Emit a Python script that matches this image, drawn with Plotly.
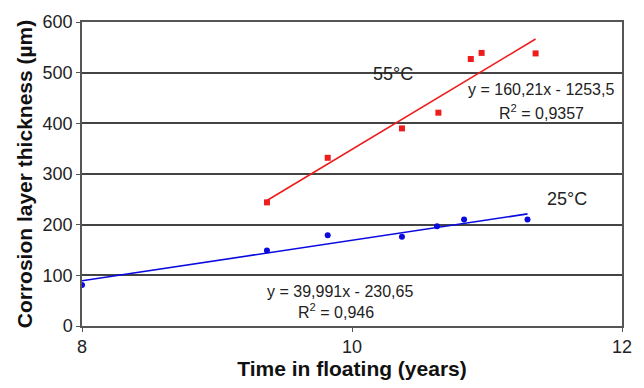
import plotly.graph_objects as go

# Data
x_55 = [9.37, 9.82, 10.37, 10.64, 10.88, 10.96, 11.36]
y_55 = [244, 332, 390, 421, 527, 539, 538]
x_25 = [8.0, 9.37, 9.82, 10.37, 10.63, 10.83, 11.30]
y_25 = [81, 149, 179, 176, 197, 210, 210]
fit_55 = (160.21, -1253.5)
fit_25 = (39.991, -230.65)
x_ticks = [8, 10, 12]
y_ticks = [0, 100, 200, 300, 400, 500, 600]

red = "#ee1c1c"
blue = "#0a0ae0"
font = "Liberation Sans, Arial, sans-serif"

fig = go.Figure()

# Trend lines
for xs, (a, b), col in [(x_55, fit_55, red), (x_25, fit_25, blue)]:
    x0, x1 = min(xs), max(xs)
    fig.add_trace(go.Scatter(x=[x0, x1], y=[a * x0 + b, a * x1 + b], mode="lines",
                             line=dict(color=col, width=1.6), showlegend=False, hoverinfo="skip"))

fig.add_trace(go.Scatter(x=x_55, y=y_55, mode="markers",
                         marker=dict(symbol="square", size=6, color=red), showlegend=False))
fig.add_trace(go.Scatter(x=x_25, y=y_25, mode="markers",
                         marker=dict(symbol="circle", size=6, color=blue), showlegend=False))

ann = [
    dict(x=10.30, y=498, text="55°C", size=18),
    dict(x=11.40, y=466, text="y = 160,21x - 1253,5", size=16),
    dict(x=11.40, y=423, text="R<sup>2</sup> = 0,9357", size=16),
    dict(x=11.59, y=251, text="25°C", size=18),
    dict(x=9.91, y=69, text="y = 39,991x - 230,65", size=16),
    dict(x=9.88, y=29, text="R<sup>2</sup> = 0,946", size=16),
]
for a in ann:
    fig.add_annotation(x=a["x"], y=a["y"], text=a["text"], showarrow=False,
                       font=dict(family=font, size=a["size"], color="#222"),
                       xanchor="center", yanchor="middle")

fig.update_layout(
    width=644, height=388,
    margin=dict(l=82, r=21, t=19, b=56),
    paper_bgcolor="white", plot_bgcolor="white",
    font=dict(family=font, color="#222"),
    showlegend=False,
    xaxis=dict(range=[8, 12], tickvals=x_ticks, ticktext=[str(v) for v in x_ticks],
               showgrid=False, zeroline=False,
               showline=True, linecolor="#555", linewidth=1.5, mirror=True,
               ticks="outside", ticklen=4, tickcolor="#555",
               tickfont=dict(size=18, family=font, color="#222"),
               title=dict(text="<b>Time in floating (years)</b>",
                          font=dict(size=21, family=font, color="#111"), standoff=4)),
    yaxis=dict(range=[0, 600], tickvals=y_ticks, ticktext=[str(v) for v in y_ticks],
               showgrid=True, gridcolor="#444", gridwidth=1.5, zeroline=False,
               showline=True, linecolor="#555", linewidth=1.5, mirror=True,
               ticks="outside", ticklen=4, tickcolor="#555",
               tickfont=dict(size=18, family=font, color="#222"),
               title=dict(text="<b>Corrosion layer thickness (µm)</b>",
                          font=dict(size=21, family=font, color="#111"), standoff=4)),
)

fig.write_html("out.html")
